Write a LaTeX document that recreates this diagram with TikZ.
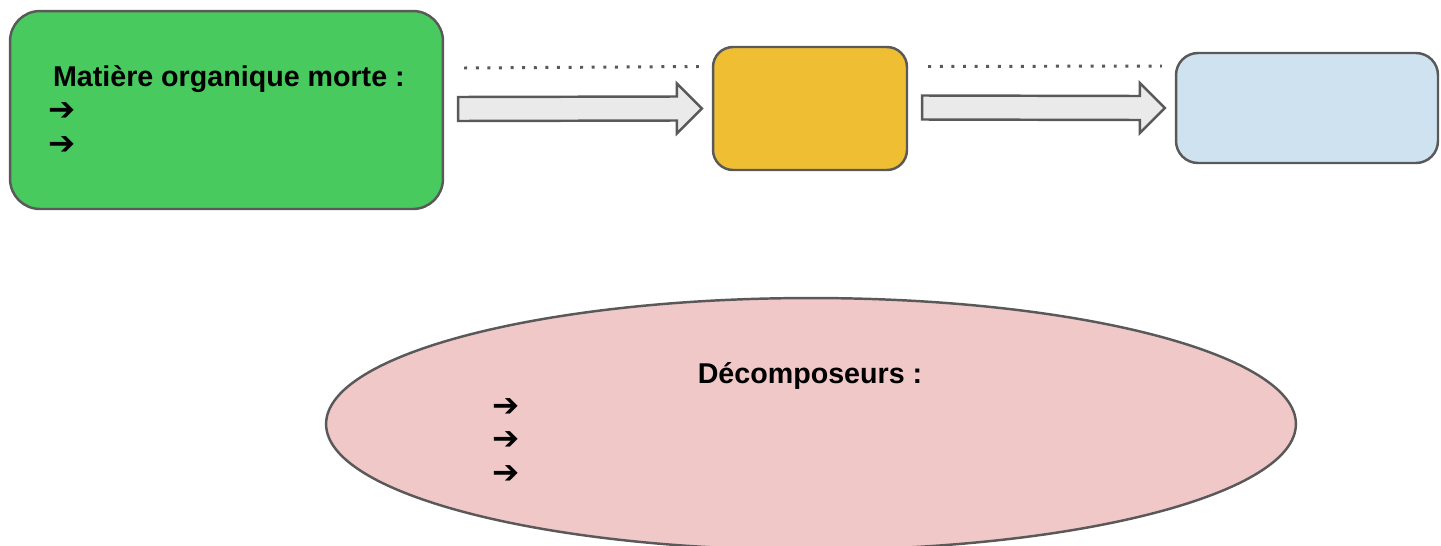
\documentclass[tikz,border=0pt]{standalone}
\usepackage{fontspec}
\setmainfont{Liberation Sans}
\newfontfamily\arrowfont{DejaVu Sans}
\definecolor{edgegray}{RGB}{89,89,89}
\definecolor{mortegreen}{RGB}{72,202,94}
\definecolor{champyellow}{RGB}{239,190,51}
\definecolor{solblue}{RGB}{207,226,240}
\definecolor{decopink}{RGB}{240,200,200}
\definecolor{flowgray}{RGB}{234,234,234}
\usetikzlibrary{shapes,positioning,calc}
\newcommand{\bularrow}{{\arrowfont\fontsize{18.5}{19}\selectfont ➔}}

\begin{document}
\begin{tikzpicture}[x=0.02cm,y=-0.02cm,
    box/.style={draw=edgegray, line width=1.4pt, rounded corners=#1, inner sep=0pt},
    label text/.style={font=\fontsize{16.3}{19}\selectfont\bfseries},
    blockarrow/.style={draw=edgegray, line width=1.4pt, fill=flowgray, line join=miter},
    dotline/.style={draw=edgegray, line width=1.7pt, dash pattern=on 1.7pt off 4.9pt}]
    \useasboundingbox (0,0) rectangle (1441,545);

    % Boxes
    \node[box=0.6cm, fill=mortegreen, minimum width=8.66cm, minimum height=3.96cm,
          label text, align=left] (mom) at (226.5,110)
        {\,Matière organique morte :\\[0pt]\bularrow\\[0.5pt]\bularrow};
    \node[box=0.4cm, fill=champyellow, minimum width=3.88cm, minimum height=2.46cm] (yel) at (810,108.5) {};
    \node[box=0.44cm, fill=solblue, minimum width=5.24cm, minimum height=2.2cm] (blu) at (1307,108) {};

    % Flow arrows and dotted lines
    \foreach \a/\b in {mom/yel, yel/blu} {
        \coordinate (s) at ($(\a.east)+(14,-1)$);
        \coordinate (t) at ($(\b.west)+(-10,0)$);
        \draw[blockarrow] ($(s)+(0,-12)$) -- ($(t)+(-25,-12)$) -- ($(t)+(-25,-25)$)
            -- (t) -- ($(t)+(-25,25)$) -- ($(t)+(-25,12)$) -- ($(s)+(0,12)$) -- cycle;
        \draw[dotline] ($(\a.east)+(20,-42)$) -- ($(\b.west)+(-13,-42)$);
    }

    % Decomposers
    \node[draw=edgegray, line width=1.4pt, fill=decopink, ellipse,
          minimum width=19.4cm, minimum height=5.04cm] (deco) at (811,424) {};
    \node[label text] (decotitle) at (810,376) {Décomposeurs :};
    \foreach \i/\y in {1/408, 2/441, 3/475} {
        \node[label text, inner sep=0pt] (decoarrow\i) at (506,\y) {\bularrow};
    }
\end{tikzpicture}
\end{document}
